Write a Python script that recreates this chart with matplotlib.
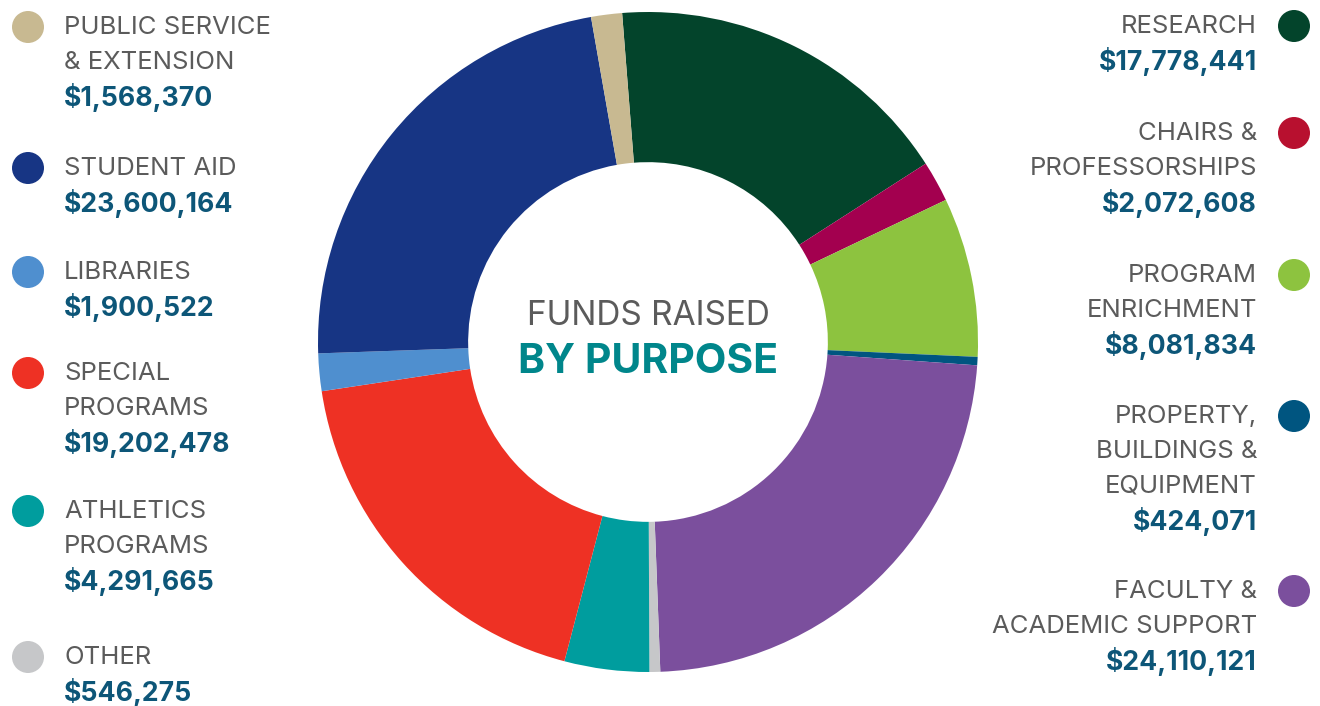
import matplotlib
matplotlib.use("Agg")
import matplotlib.pyplot as plt
from matplotlib.patches import Circle

plt.rcParams['font.family'] = ['Inter', 'DejaVu Sans']

# data, clockwise from the top
purposes = ["RESEARCH", "CHAIRS &\nPROFESSORSHIPS", "PROGRAM\nENRICHMENT",
            "PROPERTY,\nBUILDINGS &\nEQUIPMENT", "FACULTY &\nACADEMIC SUPPORT",
            "OTHER", "ATHLETICS\nPROGRAMS", "SPECIAL\nPROGRAMS", "LIBRARIES",
            "STUDENT AID", "PUBLIC SERVICE\n& EXTENSION"]
amounts = [17778441, 2072608, 8081834, 424071, 24110121,
           546275, 4291665, 19202478, 1900522, 23600164, 1568370]
colors = ["#03442b", "#a3004f", "#8dc33f", "#005580", "#7b4f9d",
          "#c6c7c9", "#009d9e", "#ee3124", "#4f8fcf", "#173584", "#c8b991"]
dot_colors = list(colors)
dot_colors[1] = "#b8102f"

# legend layout: side and first-line baseline (pixels from top)
sides = ["R", "R", "R", "R", "R", "L", "L", "L", "L", "L", "L"]
first_baseline = [33, 140, 282, 423, 598, 664, 518, 380, 279, 175, 34]

W, H = 1320, 706
LABEL_GRAY = "#5b5b5b"
VALUE_BLUE = "#0d5678"

fig = plt.figure(figsize=(W / 100, H / 100), dpi=100)

cx, cy, r = 648, 342, 330
ax = fig.add_axes([(cx - r) / W, (H - cy - r) / H, 2 * r / W, 2 * r / H])
ax.pie(amounts, colors=colors, startangle=94.5, counterclock=False,
       radius=1.0, wedgeprops=dict(width=0.455, linewidth=0))
ax.set_xlim(-1, 1)
ax.set_ylim(-1, 1)
ax.set_aspect("equal")
ax.axis("off")

# overlay in pixel coordinates for the texts and legend dots
ov = fig.add_axes([0, 0, 1, 1])
ov.set_xlim(0, W)
ov.set_ylim(H, 0)
ov.axis("off")

ov.text(cx, 325, "FUNDS RAISED", ha="center", va="baseline", fontsize=24,
        color=LABEL_GRAY)
ov.text(cx, 373, "BY PURPOSE", ha="center", va="baseline", fontsize=29.5,
        color="#00868b", fontweight="bold")

line_h = 35
for label, amt, col, side, y0 in zip(purposes, amounts, dot_colors, sides, first_baseline):
    lines = label.split("\n")
    if side == "L":
        tx, ha, dx = 64, "left", 28
    else:
        tx, ha, dx = 1257, "right", 1294
    for i, ln in enumerate(lines):
        ov.text(tx, y0 + i * line_h, ln, ha=ha, va="baseline", fontsize=18.5,
                color=LABEL_GRAY)
    ov.text(tx, y0 + (len(lines) - 1) * line_h + 37, f"${amt:,}", ha=ha,
            va="baseline", fontsize=19.2, color=VALUE_BLUE, fontweight="bold")
    ov.add_patch(Circle((dx, y0 - 7), 16, color=col, linewidth=0))

fig.savefig("out.png", dpi=100)
